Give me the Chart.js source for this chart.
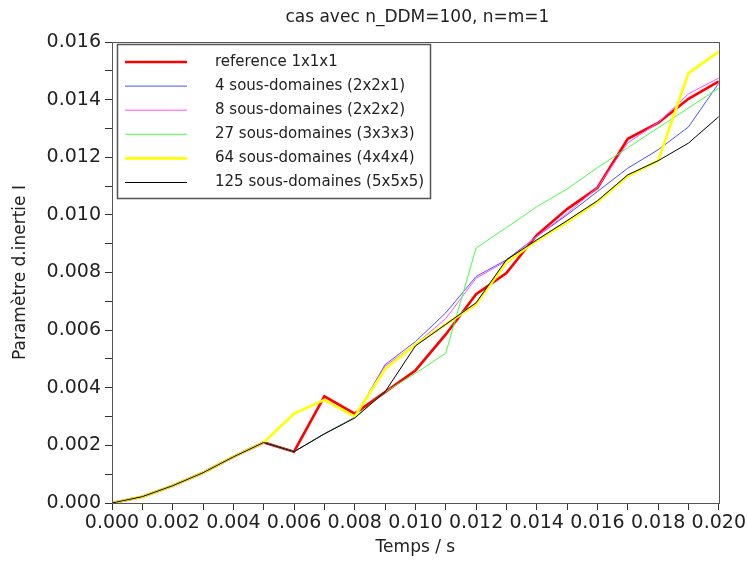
<!DOCTYPE html>
<html>
<head>
<meta charset="utf-8">
<script src="https://cdn.jsdelivr.net/npm/chart.js@4.4.1/dist/chart.umd.min.js"></script>
<style>
    html, body { margin: 0; padding: 0; background: #fff; }
    #wrap { width: 748px; height: 561px; position: relative; }
</style>
</head>
<body>
<div id="wrap"><canvas id="inertia-chart"></canvas></div>
<script>
// time steps (s)
const temps = [0, 0.001, 0.002, 0.003, 0.004, 0.005, 0.006, 0.007, 0.008, 0.009, 0.010,
               0.011, 0.012, 0.013, 0.014, 0.015, 0.016, 0.017, 0.018, 0.019, 0.020];

// inertia parameter for each decomposition
const ref1x1x1 = [0, 0.00022, 0.0006, 0.00105, 0.0016, 0.0021, 0.00178, 0.0037, 0.0031, 0.00385, 0.0046,
                  0.00585, 0.00725, 0.00798, 0.0093, 0.0102, 0.01094, 0.01264, 0.01319, 0.01403, 0.01463];
const sd4 = [0, 0.00022, 0.0006, 0.00105, 0.0016, 0.0021, 0.00178, 0.0024, 0.00297, 0.0048, 0.0056,
             0.0066, 0.00786, 0.00844, 0.00925, 0.0100, 0.01081, 0.01162, 0.01226, 0.01305, 0.01457];
const sd8 = [0, 0.00022, 0.0006, 0.00105, 0.0016, 0.0021, 0.00178, 0.0024, 0.00297, 0.00475, 0.0055,
             0.0064, 0.0078, 0.0084, 0.00925, 0.01005, 0.01095, 0.0125, 0.0132, 0.0142, 0.01475];
const sd27 = [0, 0.00022, 0.0006, 0.00105, 0.0016, 0.0021, 0.00178, 0.0024, 0.00297, 0.00385, 0.0045,
              0.0052, 0.00885, 0.00956, 0.01028, 0.0109, 0.01164, 0.01233, 0.01302, 0.01371, 0.0144];
const sd64 = [0, 0.00022, 0.0006, 0.00105, 0.0016, 0.0021, 0.0031, 0.00358, 0.0030, 0.00465, 0.0055,
              0.0062, 0.0069, 0.00835, 0.0091, 0.00975, 0.01045, 0.01135, 0.01188, 0.01492, 0.01567];
const sd125 = [0, 0.00022, 0.0006, 0.00105, 0.0016, 0.0021, 0.00178, 0.0024, 0.00295, 0.00386, 0.00545,
               0.0062, 0.00695, 0.00844, 0.00913, 0.0098, 0.01049, 0.01139, 0.01188, 0.01249, 0.01341];

const seriesLabels = ['reference 1x1x1', '4 sous-domaines (2x2x1)', '8 sous-domaines (2x2x2)',
                      '27 sous-domaines (3x3x3)', '64 sous-domaines (4x4x4)', '125 sous-domaines (5x5x5)'];
const seriesColors = ['#ff0000', '#4f4fff', '#ff4fff', '#44ff44', '#ffff00', '#000000'];
const seriesWidths = [2.6, 1, 1, 1, 2.6, 1];
const seriesValues = [ref1x1x1, sd4, sd8, sd27, sd64, sd125];

const chartTitle = 'cas avec n_DDM=100, n=m=1';
const FONT = 'DejaVu Sans';

// box around plot area + title centred over it
const frameBox = {
    id: 'frameBox',
    afterDatasetsDraw(chart) {
        const { ctx, chartArea: a } = chart;
        ctx.save();
        ctx.strokeStyle = '#555';
        ctx.lineWidth = 1;
        ctx.strokeRect(Math.round(a.left) + 0.5, Math.round(a.top) + 0.5,
                       Math.round(a.right - a.left), Math.round(a.bottom - a.top));
        ctx.fillStyle = '#222';
        ctx.font = '17px "' + FONT + '"';
        ctx.textAlign = 'center';
        ctx.textBaseline = 'middle';
        ctx.fillText(chartTitle, (a.left + a.right) / 2 + 2, 18);
        ctx.restore();
    }
};

// legend drawn inside the plot, top left
const innerLegend = {
    id: 'innerLegend',
    afterDraw(chart) {
        const { ctx } = chart;
        const x0 = 117, y0 = 44, w = 313, h = 154;
        ctx.save();
        ctx.fillStyle = '#fff';
        ctx.fillRect(x0, y0, w, h);
        ctx.strokeStyle = '#555';
        ctx.lineWidth = 1.5;
        ctx.strokeRect(x0 + 0.5, y0 + 0.5, w, h);
        ctx.font = '15px "' + FONT + '"';
        ctx.textBaseline = 'middle';
        chart.data.datasets.forEach((ds, i) => {
            const y = 62 + i * 24.1;
            ctx.strokeStyle = ds.borderColor;
            ctx.lineWidth = ds.borderWidth;
            ctx.beginPath();
            ctx.moveTo(125, y);
            ctx.lineTo(187, y);
            ctx.stroke();
            ctx.fillStyle = '#222';
            ctx.fillText(ds.label, 215, y);
        });
        ctx.restore();
    }
};

const every2 = (v) => {
    const k = Math.round(v * 1000);
    return k % 2 === 0 ? (k / 1000).toFixed(3) : '';
};

const ctx = document.getElementById('inertia-chart');
new Chart(ctx, {
    type: 'line',
    data: {
        datasets: seriesValues.map((vals, i) => ({
            label: seriesLabels[i],
            data: temps.map((t, j) => ({ x: t, y: vals[j] })),
            borderColor: seriesColors[i],
            backgroundColor: seriesColors[i],
            borderWidth: seriesWidths[i],
            pointRadius: 0,
            tension: 0,
            fill: false,
            order: 5 - i
        }))
    },
    options: {
        responsive: true,
        maintainAspectRatio: false,
        animation: false,
        layout: { padding: { left: 0, right: 28, top: 42, bottom: 0 } },
        plugins: {
            legend: { display: false },
            tooltip: { enabled: false },
            title: { display: false }
        },
        scales: {
            x: {
                type: 'linear',
                min: 0,
                max: 0.02,
                afterFit: (s) => { s.height = 58; },
                border: { color: '#333', width: 1 },
                grid: { drawOnChartArea: false, drawTicks: true, tickLength: 7, color: '#333' },
                ticks: {
                    stepSize: 0.001,
                    autoSkip: false,
                    maxRotation: 0,
                    padding: 2,
                    color: '#222',
                    font: { family: FONT, size: 19 },
                    callback: every2
                },
                title: {
                    display: true,
                    text: 'Temps / s',
                    color: '#222',
                    font: { family: FONT, size: 17 },
                    padding: { top: 0, bottom: 3 }
                }
            },
            y: {
                min: 0,
                max: 0.016,
                afterFit: (s) => { s.width = 112; },
                border: { color: '#333', width: 1 },
                grid: { drawOnChartArea: false, drawTicks: true, tickLength: 7, color: '#333' },
                ticks: {
                    stepSize: 0.001,
                    autoSkip: false,
                    padding: 4,
                    color: '#222',
                    font: { family: FONT, size: 19 },
                    callback: every2
                },
                title: {
                    display: true,
                    text: 'Paramètre d.inertie I',
                    color: '#222',
                    font: { family: FONT, size: 17 },
                    padding: { top: 10, bottom: 0 }
                }
            }
        }
    },
    plugins: [frameBox, innerLegend]
});
</script>
</body>
</html>
